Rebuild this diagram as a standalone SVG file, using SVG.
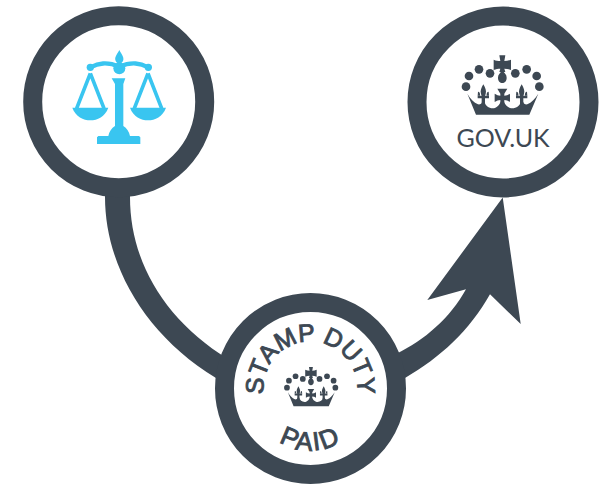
<svg xmlns="http://www.w3.org/2000/svg" width="606" height="487" viewBox="0 0 606 487">
<style>
.ring{fill:#fff;stroke:#3d4853;stroke-width:19}
.dark{fill:#3d4853}
.blue{fill:#39c5f0}
.line{fill:none;stroke:#39c5f0}
.stamp{font-family:"Liberation Sans",Arial,sans-serif;fill:#3d4853;stroke:#3d4853;stroke-width:.9px}
</style>
<defs>
<g id="crown" class="dark">
<path d="M118,10H136L133,27C140,27 146,26 153,23V54C146,51 140,50 133,50L136,60H118L121,50C114,50 108,51 101,54V23C108,26 114,27 121,27Z"/>
<path d="M127,55C134,64 140,68 140,77C140,87 134,93 127,93C120,93 114,87 114,77C114,68 120,64 127,55Z"/>
<circle cx="90" cy="64" r="13"/><circle cx="57" cy="52" r="13"/><circle cx="27" cy="72" r="13"/><circle cx="18" cy="104" r="13"/>
<circle cx="166" cy="64" r="13"/><circle cx="200" cy="52" r="13"/><circle cx="230" cy="72" r="13"/><circle cx="238" cy="104" r="13"/>
<path d="M22,125C30,140 42,152 54,157C60,158 66,155 66,150H74C76,162 90,172 105,168C112,165 118,158 122,150H132C136,158 142,165 150,168C165,172 180,162 182,150H190C190,155 196,158 202,157C214,152 226,140 235,125L208,188H48Z"/>
<g id="fleur-l">
<path d="M70,97C76,108 80,116 77,126L75,131H87V139H75V156H65V139H53V131H65L63,126C60,116 64,108 70,97Z"/>
<path d="M54,119C59,119 61,125 60,131H53ZM86,119C81,119 79,125 80,131H87Z"/>
</g>
<use href="#fleur-l" x="115"/>
<path d="M112,110H142L133,125V131C139,131 144,129 150,125V150C144,146 139,144 133,144V160H121V144C115,144 110,146 104,150V125C110,129 115,131 121,131V125Z"/>
</g>
</defs>
<g id="connectors">
<path class="dark" d="M105,190H130V197C130,262 165,320 228,359L222,384L216,378C145,335 105,265 105,197Z"/>
<path class="dark" d="M396,354C425,340 450,318 466,289.300L427.300,300L502.700,197.500L520.700,324L490,294.300C470,330 440,358 405,378Z"/>
</g>
<g id="node-law">
<circle class="ring" cx="118.700" cy="101.700" r="86"/>
<g transform="translate(60,40) scale(.3333)">
<path class="blue" d="M178,30C184,42 192,50 190,60C189,66 184,70 178,72C172,70 167,66 166,60C164,50 172,42 178,30Z"/>
<circle class="blue" cx="178" cy="85" r="18"/>
<circle class="blue" cx="91" cy="82" r="11"/><circle class="blue" cx="265" cy="82" r="11"/>
<path class="line" stroke-width="13" d="M91,82C115,70 140,64 178,80C216,64 241,70 265,82"/>
<path class="line" stroke-width="11" d="M91,100L50,205M91,100L132,205M264,100L223,205M264,100L305,205"/>
<path class="blue" d="M37,203H145C135,230 112,241 91,241C70,241 47,230 37,203Z"/>
<path class="blue" d="M210,203H318C308,230 285,241 264,241C243,241 220,230 210,203Z"/>
<path class="blue" d="M155,115H196L190,132V258C200,264 208,276 210,288H237L241,292V312H111V292L115,288H145C147,276 155,264 165,258V132Z"/>
</g>
</g>
<g id="node-gov">
<circle class="ring" cx="503" cy="102" r="86"/>
<use href="#crown" transform="translate(460,52) scale(.3333)"/>
<text x="503" y="147" text-anchor="middle" font-family="Lato,sans-serif" font-size="25" fill="#3d4853">GOV.UK</text>
</g>
<g id="node-stamp">
<circle class="ring" cx="310.500" cy="388.500" r="86"/>
<use href="#crown" transform="translate(283,364.800) scale(.22)"/>
<path id="arcTop" d="M264.900,400A47,47 0 1 1 356.100,400" fill="none"/>
<path id="arcBot" d="M248.500,388.500A62,62 0 0 0 372.500,388.500" fill="none"/>
<text class="stamp" font-size="25"><textPath href="#arcTop" startOffset="50%" text-anchor="middle">STAMP DUTY</textPath></text>
<text class="stamp" font-size="26" letter-spacing="2"><textPath href="#arcBot" startOffset="50%" text-anchor="middle">PAID</textPath></text>
</g>
</svg>
